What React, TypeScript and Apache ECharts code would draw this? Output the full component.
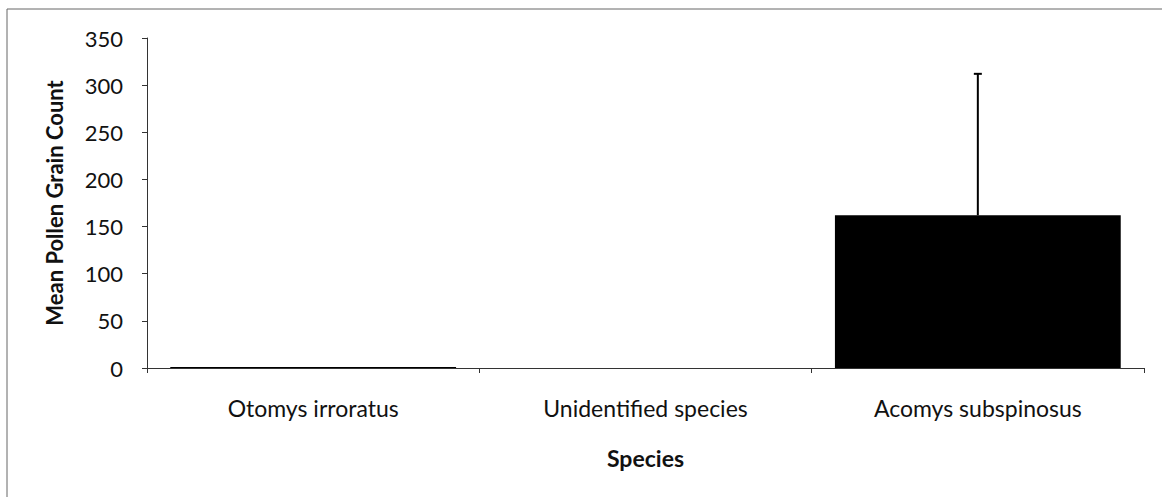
import React, { useEffect, useRef } from "react";
import * as echarts from "echarts";

const categories = ["Otomys irroratus", "Unidentified species", "Acomys subspinosus"];
const meanCounts = [1, 0, 162];
const errorValues = [0, 0, 150];
const yTicks = [0, 350, 50]; // min, max, interval

const FONT = "Lato";

export default function App() {
  const ref = useRef<HTMLDivElement>(null);
  useEffect(() => {
    if (!ref.current) return;
    const chart = echarts.init(ref.current, undefined, { renderer: "svg" });
    const errData = meanCounts.map((m, i) => [i, m, m + errorValues[i]]);
    chart.setOption({
      animation: false,
      backgroundColor: "#fff",
      grid: { left: 147, right: 22, top: 38, bottom: 129 },
      xAxis: {
        type: "category",
        data: categories,
        name: "Species",
        nameLocation: "middle",
        nameGap: 78,
        nameTextStyle: { fontFamily: FONT, fontWeight: "bold", fontSize: 23, color: "#111" },
        axisLine: { lineStyle: { color: "#333", width: 1 } },
        axisTick: { show: true, length: 5, interval: 0, lineStyle: { color: "#333" } },
        axisLabel: { margin: 28, fontFamily: FONT, fontSize: 23, color: "#111", interval: 0 },
      },
      yAxis: {
        type: "value",
        min: yTicks[0],
        max: yTicks[1],
        interval: yTicks[2],
        name: "Mean Pollen Grain Count",
        nameLocation: "middle",
        nameGap: 82,
        nameTextStyle: { fontFamily: FONT, fontWeight: "bold", fontSize: 22, color: "#111" },
        axisLine: { show: true, lineStyle: { color: "#333", width: 1 } },
        axisTick: { show: true, length: 5, lineStyle: { color: "#333" } },
        axisLabel: { margin: 24, fontFamily: FONT, fontSize: 22, color: "#111" },
        splitLine: { show: false },
      },
      graphic: [
        { type: "line", shape: { x1: 7, y1: 9, x2: 1162, y2: 9 }, style: { stroke: "#666", lineWidth: 1 } },
        { type: "line", shape: { x1: 7, y1: 9, x2: 7, y2: 497 }, style: { stroke: "#666", lineWidth: 1 } },
      ],
      series: [
        {
          type: "bar",
          data: meanCounts,
          barWidth: "86%",
          itemStyle: { color: "#000" },
        },
        {
          type: "custom",
          data: errData,
          z: 10,
          renderItem: (params: any, api: any) => {
            const i = api.value(0);
            const lo = api.value(1);
            const hi = api.value(2);
            if (hi <= lo) return null;
            const p1 = api.coord([i, lo]);
            const p2 = api.coord([i, hi]);
            const style = { stroke: "#000", lineWidth: 2 };
            return {
              type: "group",
              children: [
                { type: "line", shape: { x1: p1[0], y1: p1[1], x2: p2[0], y2: p2[1] }, style },
                { type: "line", shape: { x1: p2[0] - 4, y1: p2[1], x2: p2[0] + 4, y2: p2[1] }, style },
              ],
            };
          },
        },
      ],
    });
    return () => chart.dispose();
  }, []);
  return <div ref={ref} style={{ width: 1166, height: 497, position: "absolute", left: 0, top: 0 }} />;
}
